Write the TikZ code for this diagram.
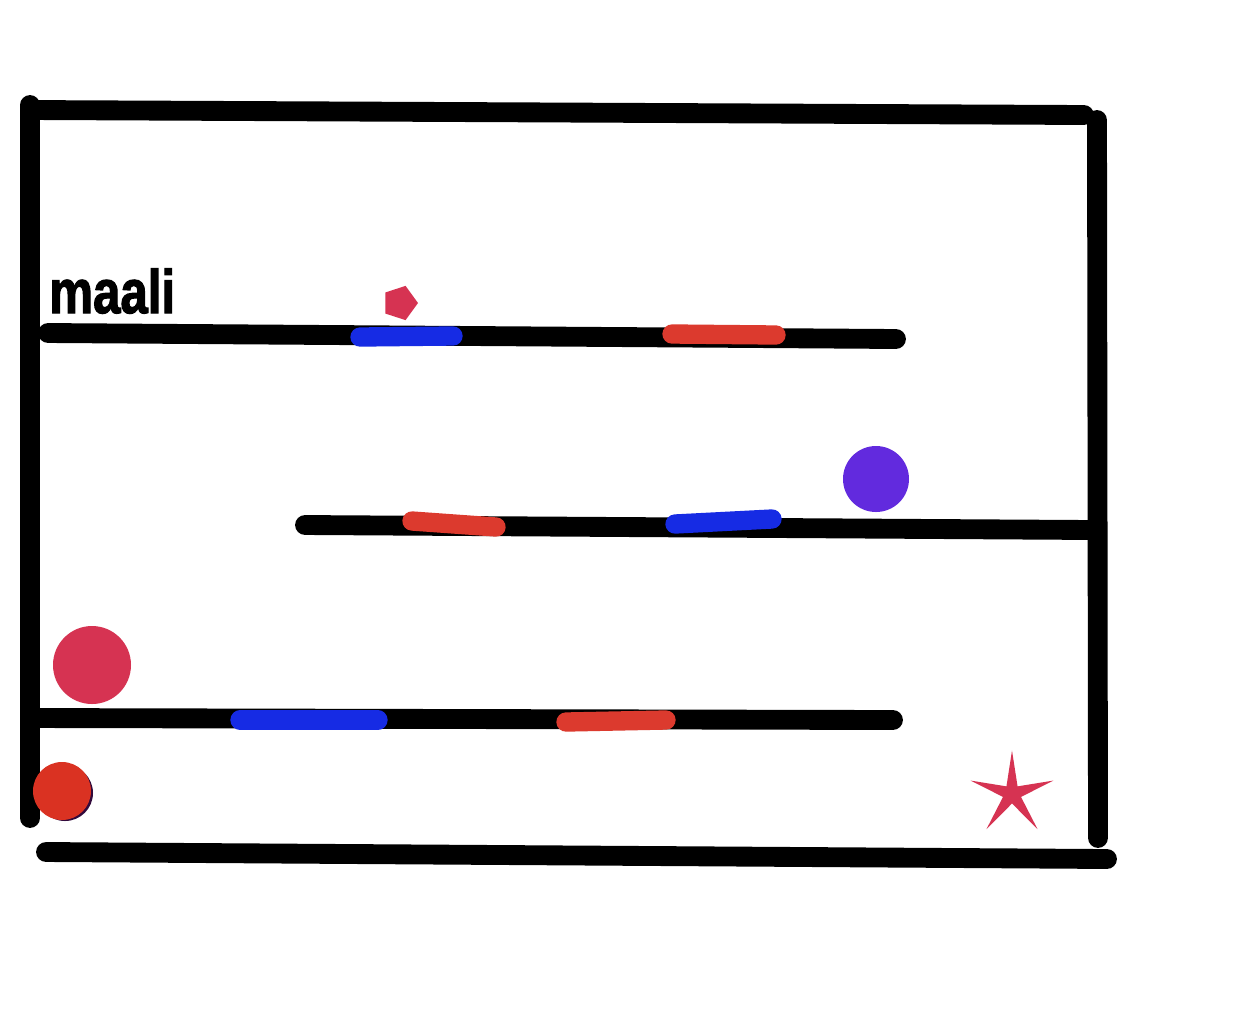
\documentclass[tikz,border=0pt]{standalone}
\usepackage{fontspec}
\setmainfont{Liberation Sans}
\newfontfamily\goalfont[FakeBold=2.2]{Liberation Sans}
\usetikzlibrary{shapes.geometric}
\definecolor{wallblack}{RGB}{0,0,0}
\definecolor{padblue}{RGB}{22,43,228}
\definecolor{padred}{RGB}{220,58,46}
\definecolor{ballpink}{RGB}{214,51,82}
\definecolor{ballpurple}{RGB}{98,42,222}
\definecolor{ballred}{RGB}{218,50,34}
\definecolor{shadowpurple}{RGB}{50,10,60}
\tikzset{
  wall/.style={line width=11.3pt, line cap=round, draw=wallblack},
  pad/.style={line width=11pt, line cap=round},
}
\begin{document}
\begin{tikzpicture}[x=0.02cm,y=-0.02cm]
\fill[white] (0,0) rectangle (1244,1012);
\useasboundingbox (0,0) rectangle (1244,1012);
% outer walls
\draw[wall] (30,105) -- (30,818);
\draw[wall] (30,110) -- (1084,115);
\draw[wall] (1097,120) -- (1098,838);
\draw[wall] (46,852) -- (1107,859);
% shelves
\draw[wall] (48,333) -- (896,339);
\draw[wall] (305,525) -- (1092,530);
\draw[wall] (30,718) -- (893,720);
% coloured pads
\draw[pad, padblue] (360,337) -- (453,336);
\draw[pad, padred] (672,334) -- (776,335);
\draw[pad, padred] (412,521) -- (496,527);
\draw[pad, padblue] (675,524) -- (772,519);
\draw[pad, padblue] (240,720) -- (378,720);
\draw[pad, padred] (566,722) -- (666,720);
% label
\node[anchor=base west, inner sep=0pt, font=\goalfont\bfseries\fontsize{35}{35}\selectfont] (goal) at (49,313) {\scalebox{0.8}[1]{maali}};
% pentagon
\node[regular polygon, regular polygon sides=5, fill=ballpink, inner sep=0pt, minimum size=0.72cm, rotate=-18] (penta) at (400,303) {};
% balls
\fill[ballpurple] (876,479) circle (33);
\fill[ballpink] (92,665) circle (39);
\fill[shadowpurple] (65,793) circle (28);
\fill[ballred] (62,791) circle (29);
% star
\node[star, star points=5, star point ratio=4.6, fill=ballpink, inner sep=0pt, minimum size=1.74cm] (goalstar) at (1012,794) {};
\end{tikzpicture}
\end{document}
